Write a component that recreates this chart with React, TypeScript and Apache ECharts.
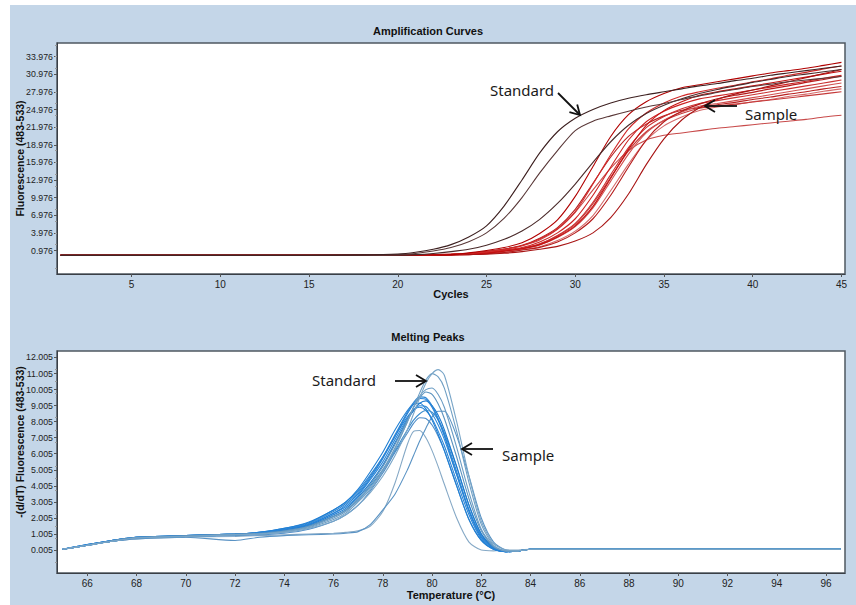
import React, { useEffect, useRef } from "react";
import * as echarts from "echarts";

// ---------------- DATA ----------------
const CYCLES = [1, 5, 10, 15, 18, 20, 21, 22, 23, 24, 25, 26, 27, 28, 29, 30, 31, 32, 33, 34, 35, 36, 37, 38, 39, 40, 41, 42, 43, 44, 45];

const ampStandard1 = [0.2, 0.2, 0.2, 0.2, 0.25, 0.4, 0.7, 1.2, 2.0, 3.3, 5.2, 8.6, 13.0, 17.6, 21.2, 23.5, 25.0, 26.1, 26.9, 27.5, 28.0, 28.5, 29.0, 29.4, 29.9, 30.3, 30.8, 31.2, 31.6, 32.0, 32.4];
const ampStandard2 = [0.2, 0.2, 0.2, 0.2, 0.2, 0.3, 0.5, 0.9, 1.5, 2.5, 4.0, 6.5, 10.0, 14.2, 18.0, 21.4, 23.0, 23.9, 24.7, 25.4, 26.0, 26.7, 27.3, 27.9, 28.4, 28.9, 29.3, 29.7, 30.0, 30.3, 30.6];
const ampStandard3 = [0.2, 0.2, 0.2, 0.2, 0.2, 0.2, 0.3, 0.5, 0.8, 1.2, 1.9, 2.9, 4.3, 6.3, 9.0, 12.3, 16.0, 19.5, 22.3, 24.3, 25.7, 26.8, 27.7, 28.4, 29.0, 29.6, 30.1, 30.6, 31.0, 31.4, 31.8];
const ampSample1 = [0.2, 0.2, 0.2, 0.2, 0.2, 0.2, 0.2, 0.25, 0.3, 0.6, 1.0, 1.5, 2.3, 3.9, 6.2, 10.2, 15.3, 20.4, 24.1, 26.3, 27.7, 28.7, 29.2, 29.7, 30.2, 30.7, 31.2, 31.6, 32.0, 32.5, 33.0];
const ampSample2 = [0.2, 0.2, 0.2, 0.2, 0.2, 0.2, 0.2, 0.25, 0.35, 0.5, 0.75, 1.2, 1.8, 2.95, 4.7, 7.6, 12.3, 17.3, 21.7, 24.4, 26.1, 27.3, 28.0, 28.6, 29.1, 29.7, 30.2, 30.8, 31.3, 31.9, 32.4];
const ampSample3 = [0.2, 0.2, 0.2, 0.2, 0.2, 0.2, 0.2, 0.25, 0.3, 0.44, 0.65, 1.07, 1.5, 2.45, 4.0, 6.4, 10.4, 15.2, 19.8, 22.9, 24.7, 25.9, 26.8, 27.3, 27.8, 28.3, 28.8, 29.3, 29.8, 30.3, 30.8];
const ampSample4 = [0.2, 0.2, 0.2, 0.2, 0.2, 0.2, 0.2, 0.25, 0.3, 0.4, 0.53, 0.89, 1.27, 1.93, 3.2, 5.05, 8.26, 12.8, 17.4, 21.0, 23.15, 24.55, 25.55, 26.0, 26.5, 27.0, 27.5, 28.0, 28.5, 29.0, 29.5];
const ampSample5 = [0.2, 0.2, 0.2, 0.2, 0.2, 0.2, 0.2, 0.2, 0.3, 0.35, 0.48, 0.7, 1.13, 1.65, 2.7, 4.3, 6.95, 11.2, 15.7, 19.7, 22.2, 23.7, 24.8, 25.4, 25.8, 26.3, 26.7, 27.2, 27.6, 28.1, 28.5];
const ampSample6 = [0.2, 0.2, 0.2, 0.2, 0.2, 0.2, 0.2, 0.25, 0.3, 0.4, 0.58, 0.95, 1.33, 2.08, 3.45, 5.45, 8.95, 13.45, 17.95, 21.2, 23.1, 24.3, 25.2, 25.55, 25.9, 26.25, 26.6, 26.95, 27.3, 27.65, 28.0];
const ampSample7 = [0.2, 0.2, 0.2, 0.2, 0.2, 0.2, 0.2, 0.2, 0.25, 0.3, 0.44, 0.65, 1.07, 1.53, 2.45, 4.0, 6.4, 10.4, 15.2, 19.8, 22.9, 24.7, 25.9, 26.8, 27.4, 27.9, 28.5, 29.0, 29.6, 30.1, 30.7];
const ampSample8 = [0.2, 0.2, 0.2, 0.2, 0.2, 0.2, 0.2, 0.2, 0.25, 0.3, 0.35, 0.52, 0.8, 1.2, 1.7, 2.6, 4.0, 6.6, 10.6, 15.6, 20.0, 23.2, 25.3, 26.7, 27.6, 28.3, 29.0, 29.7, 30.4, 31.1, 31.8];
const ampSample9 = [0.2, 0.2, 0.2, 0.2, 0.2, 0.2, 0.2, 0.25, 0.35, 0.5, 0.8, 1.2, 1.8, 2.8, 4.6, 7.5, 11.3, 15.0, 18.0, 19.8, 20.6, 21.0, 21.4, 21.8, 22.1, 22.4, 22.7, 23.0, 23.3, 23.7, 24.0];
const ampSample10 = [0.2, 0.2, 0.2, 0.2, 0.2, 0.2, 0.2, 0.25, 0.3, 0.4, 0.56, 0.89, 1.3, 2.0, 3.3, 5.2, 8.5, 13.3, 18.2, 22.3, 24.8, 26.3, 27.4, 28.0, 28.5, 29.0, 29.5, 30.0, 30.5, 31.0, 31.5];
const ampSample11 = [0.2, 0.2, 0.2, 0.2, 0.2, 0.2, 0.25, 0.3, 0.4, 0.52, 0.87, 1.24, 1.89, 3.1, 4.9, 8.0, 12.45, 16.9, 20.4, 22.5, 23.9, 24.85, 25.3, 25.8, 26.2, 26.7, 27.1, 27.6, 28.0, 28.5, 28.9];
const ampSample12 = [0.2, 0.2, 0.2, 0.2, 0.2, 0.2, 0.2, 0.25, 0.3, 0.41, 0.59, 0.97, 1.36, 2.14, 3.55, 5.6, 9.2, 13.9, 18.5, 21.9, 23.8, 25.1, 26.0, 26.5, 27.0, 27.5, 28.0, 28.5, 29.0, 29.5, 30.0];

const AMP_X_TICKS = [5, 10, 15, 20, 25, 30, 35, 40, 45];
const AMP_Y_TICKS = [0.976, 3.976, 6.976, 9.976, 12.976, 15.976, 18.976, 21.976, 24.976, 27.976, 30.976, 33.976];

const TEMPS = [65, 66, 67, 68, 70, 72, 73, 74, 75, 76, 76.5, 77, 77.5, 78, 78.5, 79, 79.25, 79.5, 79.75, 80, 80.25, 80.5, 81, 81.5, 82, 82.5, 83, 83.5, 84, 85, 90, 96.6];

const meltStandard1 = [0.05, 0.3, 0.55, 0.75, 0.85, 0.95, 1.0, 1.1, 1.35, 1.8, 2.2, 2.8, 3.6, 4.6, 5.9, 7.5, 8.5, 9.5, 10.4, 11.0, 11.25, 10.9, 8.0, 4.6, 1.8, 0.4, 0.0, -0.05, 0.05, 0.05, 0.05, 0.05];
const meltStandard2 = [0.05, 0.3, 0.55, 0.75, 0.85, 0.95, 1.0, 1.15, 1.4, 1.9, 2.3, 3.0, 3.8, 4.9, 6.3, 8.0, 8.9, 9.8, 10.6, 11.0, 10.8, 10.1, 7.4, 4.2, 1.6, 0.3, -0.05, -0.05, 0.05, 0.05, 0.05, 0.05];
const meltSample1 = [0.05, 0.3, 0.6, 0.8, 0.9, 1.0, 1.05, 1.2, 1.5, 2.1, 2.5, 3.2, 4.1, 5.2, 6.6, 8.1, 8.9, 9.5, 9.85, 9.7, 9.1, 8.2, 5.8, 3.2, 1.2, 0.2, -0.05, -0.05, 0.05, 0.05, 0.05, 0.05];
const meltSample2 = [0.05, 0.35, 0.6, 0.8, 0.9, 1.0, 1.1, 1.3, 1.6, 2.3, 2.8, 3.5, 4.5, 5.7, 7.1, 8.5, 9.1, 9.45, 9.4, 8.9, 8.1, 7.1, 4.7, 2.4, 0.8, 0.1, -0.1, -0.05, 0.05, 0.05, 0.05, 0.05];
const meltSample3 = [0.05, 0.35, 0.6, 0.8, 0.9, 1.0, 1.1, 1.35, 1.7, 2.5, 3.0, 3.8, 4.9, 6.1, 7.5, 8.7, 9.1, 9.15, 8.8, 8.1, 7.2, 6.2, 4.0, 1.9, 0.6, 0.05, -0.1, -0.05, 0.05, 0.05, 0.05, 0.05];
const meltSample4 = [0.05, 0.3, 0.55, 0.75, 0.85, 0.95, 1.05, 1.25, 1.6, 2.3, 2.7, 3.4, 4.4, 5.5, 6.9, 8.2, 8.7, 9.0, 8.95, 8.5, 7.8, 6.9, 4.7, 2.5, 0.9, 0.15, -0.1, -0.05, 0.05, 0.05, 0.05, 0.05];
const meltSample5 = [0.05, 0.3, 0.55, 0.75, 0.85, 0.95, 1.0, 1.2, 1.5, 2.1, 2.5, 3.1, 4.0, 5.0, 6.2, 7.5, 8.1, 8.5, 8.7, 8.6, 8.1, 7.3, 5.2, 2.8, 1.0, 0.2, -0.05, -0.05, 0.05, 0.05, 0.05, 0.05];
const meltSample6 = [0.05, 0.3, 0.55, 0.7, 0.8, 0.6, 0.8, 0.9, 0.95, 1.0, 1.05, 1.15, 1.6, 2.5, 3.5, 5.0, 5.9, 6.8, 7.6, 8.3, 8.65, 8.65, 7.1, 4.6, 2.0, 0.5, 0.0, -0.05, 0.05, 0.05, 0.05, 0.05];
const meltSample7 = [0.05, 0.3, 0.55, 0.7, 0.8, 0.85, 0.9, 0.95, 1.0, 1.05, 1.1, 1.2, 1.5, 2.4, 4.2, 6.6, 7.4, 7.45, 7.0, 6.2, 5.2, 4.1, 2.0, 0.5, 0.0, -0.05, 0.0, 0.0, 0.05, 0.05, 0.05, 0.05];
const meltSample8 = [0.05, 0.3, 0.6, 0.8, 0.9, 1.0, 1.05, 1.25, 1.55, 2.2, 2.6, 3.3, 4.2, 5.3, 6.7, 8.1, 8.7, 9.15, 9.3, 9.0, 8.4, 7.5, 5.2, 2.8, 1.0, 0.15, -0.1, -0.05, 0.05, 0.05, 0.05, 0.05];
const meltSample9 = [0.05, 0.35, 0.6, 0.8, 0.9, 1.0, 1.1, 1.35, 1.75, 2.5, 3.0, 3.7, 4.7, 5.8, 7.1, 8.3, 8.75, 8.9, 8.7, 8.2, 7.4, 6.5, 4.3, 2.2, 0.7, 0.05, -0.1, -0.05, 0.05, 0.05, 0.05, 0.05];
const meltSample10 = [0.05, 0.3, 0.6, 0.8, 0.9, 1.0, 1.1, 1.3, 1.65, 2.4, 2.9, 3.6, 4.6, 5.8, 7.2, 8.6, 9.2, 9.55, 9.5, 9.0, 8.2, 7.2, 4.9, 2.5, 0.8, 0.1, -0.1, -0.05, 0.05, 0.05, 0.05, 0.05];
const meltSample11 = [0.05, 0.3, 0.55, 0.75, 0.85, 0.95, 1.0, 1.15, 1.45, 2.0, 2.4, 3.1, 3.9, 5.0, 6.4, 8.0, 8.9, 9.6, 10.0, 10.1, 9.7, 8.9, 6.4, 3.6, 1.3, 0.25, -0.05, -0.05, 0.05, 0.05, 0.05, 0.05];
const meltSample12 = [0.05, 0.3, 0.55, 0.75, 0.85, 0.9, 0.95, 1.05, 1.3, 1.8, 2.2, 2.8, 3.7, 4.8, 6.1, 7.3, 7.9, 8.25, 8.2, 7.8, 7.1, 6.2, 4.0, 1.9, 0.6, 0.05, -0.1, -0.05, 0.05, 0.05, 0.05, 0.05];

const MELT_X_TICKS = [66, 68, 70, 72, 74, 76, 78, 80, 82, 84, 86, 88, 90, 92, 94, 96];
const MELT_Y_TICKS = [0.005, 1.005, 2.005, 3.005, 4.005, 5.005, 6.005, 7.005, 8.005, 9.005, 10.005, 11.005, 12.005];

// ---------------- STYLE ----------------
const ampCurves: [number[], string][] = [
  [ampSample9, "#c84a4a"],
  [ampSample5, "#d46a6a"],
  [ampSample6, "#c53a3a"],
  [ampSample11, "#b82020"],
  [ampSample4, "#d05050"],
  [ampSample12, "#c93030"],
  [ampSample3, "#cc2222"],
  [ampSample7, "#b51a1a"],
  [ampSample10, "#c41010"],
  [ampSample8, "#a81414"],
  [ampSample2, "#d02828"],
  [ampSample1, "#b00000"],
  [ampStandard3, "#4a2a2a"],
  [ampStandard2, "#5a3838"],
  [ampStandard1, "#3d2020"],
];

const meltCurves: [number[], string][] = [
  [meltSample7, "#86a9c6"],
  [meltSample12, "#4d8cc8"],
  [meltSample6, "#5a93c4"],
  [meltSample9, "#2a84d6"],
  [meltSample3, "#1f7fd4"],
  [meltSample4, "#2d88d8"],
  [meltSample5, "#3a8ccc"],
  [meltSample8, "#1c7ad0"],
  [meltSample10, "#2f86d2"],
  [meltSample2, "#2582d8"],
  [meltSample1, "#5c93bf"],
  [meltSample11, "#6a9cc4"],
  [meltStandard2, "#6f9fc4"],
  [meltStandard1, "#7aa6c8"],
];

const LABEL_FONT = "'Liberation Sans Narrow', 'Liberation Sans', Arial, sans-serif";
const BOLD_FONT = "'Liberation Sans', Arial, sans-serif";
const NOTE_FONT = "'Noto Sans', 'Open Sans', sans-serif";

function buildOption(): any {
  const series: any[] = [];
  ampCurves.forEach(([vals, color], k) => {
    series.push({
      type: "line",
      name: "amp" + k,
      xAxisIndex: 0,
      yAxisIndex: 0,
      data: CYCLES.map((c, i) => [c, vals[i]]),
      showSymbol: false,
      smooth: 0.25,
      silent: true,
      lineStyle: { width: 1.1, color },
    });
  });
  meltCurves.forEach(([vals, color], k) => {
    series.push({
      type: "line",
      name: "melt" + k,
      xAxisIndex: 1,
      yAxisIndex: 1,
      data: TEMPS.map((t, i) => [t, vals[i]]),
      showSymbol: false,
      smooth: 0.25,
      silent: true,
      lineStyle: { width: 1.1, color },
    });
  });

  const axisLine = { show: true, onZero: false, lineStyle: { color: "#3a3f45", width: 1 } };
  const tickStyle = { color: "#555" };

  const arrowStyle = { stroke: "#111", lineWidth: 1.8, fill: null };
  const noteStyle = (text: string) => ({ text, fontSize: 15, fontFamily: NOTE_FONT, fill: "#1a1a1a", verticalAlign: "middle", align: "left" });

  return {
    animation: false,
    backgroundColor: "transparent",
    title: [
      { text: "Amplification Curves", left: "center", top: 20, textStyle: { fontSize: 11, fontWeight: "bold", fontFamily: BOLD_FONT, color: "#111" } },
      { text: "Melting Peaks", left: "center", top: 326, textStyle: { fontSize: 11, fontWeight: "bold", fontFamily: BOLD_FONT, color: "#111" } },
    ],
    grid: [
      { left: 57, top: 43, width: 788, height: 231, show: true, backgroundColor: "#ffffff", borderColor: "#4f5860", borderWidth: 1.5 },
      { left: 57, top: 351, width: 788, height: 222, show: true, backgroundColor: "#ffffff", borderColor: "#4f5860", borderWidth: 1.5 },
    ],
    xAxis: [
      {
        type: "value", gridIndex: 0, min: 0.8, max: 45.2,
        name: "Cycles", nameLocation: "middle", nameGap: 14, nameMoveOverlap: false,
        nameTextStyle: { fontSize: 11, fontWeight: "bold", fontFamily: BOLD_FONT, color: "#111" },
        axisLine,
        axisTick: { show: true, customValues: AMP_X_TICKS, length: 3, lineStyle: tickStyle },
        axisLabel: { customValues: AMP_X_TICKS, fontSize: 10, fontFamily: LABEL_FONT, color: "#222", margin: 5 },
        splitLine: { show: false },
      },
      {
        type: "value", gridIndex: 1, min: 64.77, max: 96.77,
        name: "Temperature (°C)", nameLocation: "middle", nameGap: 16, nameMoveOverlap: false,
        nameTextStyle: { fontSize: 11, fontWeight: "bold", fontFamily: BOLD_FONT, color: "#111" },
        axisLine,
        axisTick: { show: true, customValues: MELT_X_TICKS, length: 3, lineStyle: tickStyle },
        axisLabel: { customValues: MELT_X_TICKS, fontSize: 10, fontFamily: LABEL_FONT, color: "#222", margin: 5 },
        splitLine: { show: false },
      },
    ],
    yAxis: [
      {
        type: "value", gridIndex: 0, min: -3.0, max: 36.3,
        name: "Fluorescence (483-533)", nameLocation: "middle", nameGap: 32, nameRotate: 90, nameMoveOverlap: false,
        nameTextStyle: { fontSize: 10.5, fontWeight: "bold", fontFamily: BOLD_FONT, color: "#111" },
        axisLine,
        axisTick: { show: true, customValues: AMP_Y_TICKS, length: 3, lineStyle: tickStyle },
        minorTick: { show: true, splitNumber: 5, length: 2, lineStyle: { color: "#999" } },
        axisLabel: { customValues: AMP_Y_TICKS, formatter: (v: number) => v.toFixed(3), fontSize: 8.8, fontFamily: LABEL_FONT, color: "#222", margin: 4 },
        splitLine: { show: false },
        minorSplitLine: { show: false },
      },
      {
        type: "value", gridIndex: 1, min: -1.43, max: 12.41,
        name: "-(d/dT) Fluorescence (483-533)", nameLocation: "middle", nameGap: 32, nameRotate: 90, nameMoveOverlap: false,
        nameTextStyle: { fontSize: 10.5, fontWeight: "bold", fontFamily: BOLD_FONT, color: "#111", padding: [0, 0, 0, 40] },
        axisLine,
        axisTick: { show: true, customValues: MELT_Y_TICKS, length: 3, lineStyle: tickStyle },
        minorTick: { show: true, splitNumber: 4, length: 2, lineStyle: { color: "#999" } },
        axisLabel: { customValues: MELT_Y_TICKS, formatter: (v: number) => v.toFixed(3), fontSize: 8.8, fontFamily: LABEL_FONT, color: "#222", margin: 4 },
        splitLine: { show: false },
        minorSplitLine: { show: false },
      },
    ],
    series,
    graphic: [
      { type: "text", x: 490, y: 90, z: 50, style: noteStyle("Standard") },
      { type: "line", z: 50, shape: { x1: 558, y1: 93, x2: 580, y2: 115 }, style: arrowStyle },
      { type: "polyline", z: 50, shape: { points: [[577.2, 104.4], [580, 115], [569.4, 112.2]] }, style: arrowStyle },

      { type: "text", x: 745, y: 114, z: 50, style: noteStyle("Sample") },
      { type: "line", z: 50, shape: { x1: 737, y1: 106, x2: 705, y2: 106 }, style: arrowStyle },
      { type: "polyline", z: 50, shape: { points: [[715, 100], [705, 106], [715, 112]] }, style: arrowStyle },

      { type: "text", x: 312, y: 380, z: 50, style: noteStyle("Standard") },
      { type: "line", z: 50, shape: { x1: 395, y1: 381, x2: 426, y2: 381 }, style: arrowStyle },
      { type: "polyline", z: 50, shape: { points: [[416, 375], [426, 381], [416, 387]] }, style: arrowStyle },

      { type: "text", x: 502, y: 455, z: 50, style: noteStyle("Sample") },
      { type: "line", z: 50, shape: { x1: 493, y1: 449, x2: 462, y2: 449 }, style: arrowStyle },
      { type: "polyline", z: 50, shape: { points: [[472, 443], [462, 449], [472, 455]] }, style: arrowStyle },
    ],
  };
}

export default function App() {
  const ref = useRef<HTMLDivElement>(null);
  useEffect(() => {
    if (!ref.current) return;
    const chart = echarts.init(ref.current, null, { renderer: "svg" });
    chart.setOption(buildOption());
    return () => chart.dispose();
  }, []);
  return (
    <div style={{ position: "absolute", left: 0, top: 0, width: 856, height: 605, background: "#ffffff", overflow: "hidden" }}>
      <div style={{ position: "absolute", left: 10, top: 5, width: 846, height: 600, background: "#c4d6e8" }} />
      <div ref={ref} style={{ position: "absolute", left: 0, top: 0, width: 856, height: 605 }} />
    </div>
  );
}
